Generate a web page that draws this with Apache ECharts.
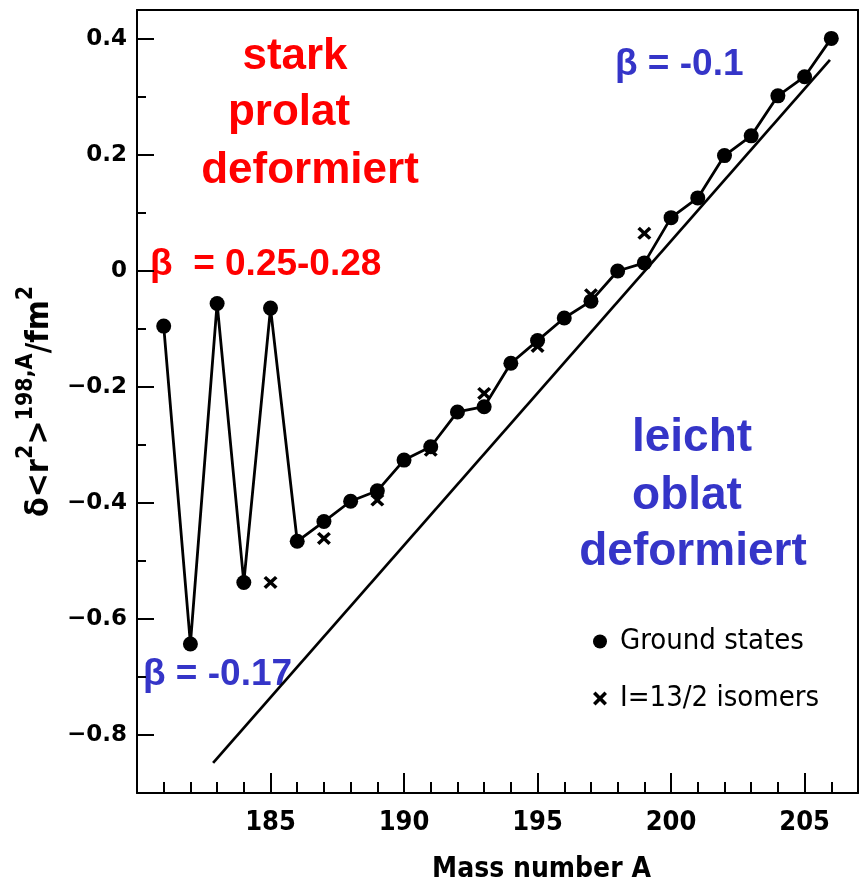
<!DOCTYPE html>
<html>
<head>
<meta charset="utf-8">
<script src="https://cdn.jsdelivr.net/npm/echarts@6/dist/echarts.min.js"></script>
<style>html,body{margin:0;padding:0;background:#fff;}#c{width:864px;height:881px;}</style>
</head>
<body>
<div id="c"></div>
<script>
// ---- data ----
const groundMass = [181,182,183,184,185,186,187,188,189,190,191,192,193,194,195,196,197,198,199,200,201,202,203,204,205,206];
const groundValues = [-0.095,-0.643,-0.056,-0.537,-0.064,-0.466,-0.432,-0.397,-0.379,-0.326,-0.303,-0.243,-0.234,-0.159,-0.120,-0.081,-0.052,0.000,0.014,0.092,0.126,0.199,0.233,0.302,0.335,0.401];
const isomerMass = [185,187,189,191,193,195,197,199];
const isomerValues = [-0.537,-0.461,-0.395,-0.309,-0.211,-0.130,-0.041,0.065];
const lineMass = [182.85,205.95];
const lineValues = [-0.848,0.364];
const xMajorTicks = [185,190,195,200,205];
const xMinorTicks = [181,182,183,184,186,187,188,189,191,192,193,194,196,197,198,199,201,202,203,204,206];
const yMajorTicks = [-0.8,-0.6,-0.4,-0.2,0,0.2,0.4];
const yMinorTicks = [-0.7,-0.5,-0.3,-0.1,0.1,0.3];
const seriesNames = ['Ground states','I=13/2 isomers'];

const plotFont = '"Liberation Sans Narrow","DejaVu Sans Condensed","DejaVu Sans",sans-serif';
const crossPath = 'path://M0,1.8L1.8,0L5,3.2L8.2,0L10,1.8L6.8,5L10,8.2L8.2,10L5,6.8L1.8,10L0,8.2L3.2,5Z';
const blue = '#3535c8';
const red = '#ff0000';

const zip = (a,b) => a.map((x,i)=>[x,b[i]]);
const fmtY = v => v === 0 ? '0' : (v < 0 ? '\u2212' : '') + Math.abs(v).toFixed(1);

const chart = echarts.init(document.getElementById('c'), null, {renderer:'canvas'});
const axisLine = {show:true, onZero:false, lineStyle:{color:'#000', width:2}};
const noLine = {show:false, onZero:false};
chart.setOption({
  animation:false,
  backgroundColor:'#fff',
  grid:{left:137, right:6, top:10, bottom:88, containLabel:false, outerBoundsMode:'none'},
  xAxis:[
    {type:'value', min:180, max:207, position:'bottom',
     axisLine:axisLine,
     axisTick:{show:true, inside:true, length:20, customValues:xMajorTicks, lineStyle:{color:'#000', width:2}},
     axisLabel:{show:true, customValues:xMajorTicks, margin:16, color:'#000', fontSize:27, fontWeight:'bold', fontFamily:plotFont},
     splitLine:{show:false},
     name:'Mass number A', nameLocation:'middle', nameGap:63,
     nameTextStyle:{color:'#000', fontSize:28, fontFamily:plotFont, fontWeight:'bold', padding:[0,0,0,88]}},
    {type:'value', min:180, max:207, position:'bottom',
     axisLine:noLine,
     axisTick:{show:true, inside:true, length:11, customValues:xMinorTicks, lineStyle:{color:'#000', width:2}},
     axisLabel:{show:false}, splitLine:{show:false}},
    {type:'value', min:180, max:207, position:'top',
     axisLine:axisLine, axisTick:{show:false}, axisLabel:{show:false}, splitLine:{show:false}}
  ],
  yAxis:[
    {type:'value', min:-0.9, max:0.45, position:'left',
     axisLine:axisLine,
     axisTick:{show:true, inside:true, length:17, customValues:yMajorTicks, lineStyle:{color:'#000', width:2}},
     axisLabel:{show:true, customValues:yMajorTicks, formatter:fmtY, margin:10, color:'#000', fontSize:23, fontWeight:'bold', fontFamily:'"DejaVu Sans",sans-serif'},
     splitLine:{show:false},
     name:'{a|\u03b4<r}{s|2}{a|>}{s|198,A}{a|/fm}{s|2}', nameLocation:'middle', nameRotate:90, nameGap:78,
     nameTextStyle:{color:'#000', rich:{
       a:{fontSize:32, fontFamily:plotFont, fontWeight:'bold', color:'#000', lineHeight:42, verticalAlign:'bottom'},
       s:{fontSize:23, fontFamily:plotFont, fontWeight:'bold', color:'#000', lineHeight:42, verticalAlign:'top'}
     }}},
    {type:'value', min:-0.9, max:0.45, position:'left',
     axisLine:noLine,
     axisTick:{show:true, inside:true, length:9, customValues:yMinorTicks, lineStyle:{color:'#000', width:2}},
     axisLabel:{show:false}, splitLine:{show:false}},
    {type:'value', min:-0.9, max:0.45, position:'right',
     axisLine:axisLine, axisTick:{show:false}, axisLabel:{show:false}, splitLine:{show:false}}
  ],
  legend:{
    orient:'vertical', left:588, top:622, itemWidth:14, itemHeight:14, itemGap:28,
    textStyle:{fontSize:29, color:'#000', fontFamily:plotFont, padding:[0,0,0,8]},
    data:[{name:seriesNames[0], icon:'circle'},{name:seriesNames[1], icon:crossPath, itemStyle:{color:'#000'}}]
  },
  series:[
    {name:'trend', type:'line', data:zip(lineMass,lineValues), symbol:'none',
     lineStyle:{color:'#000', width:2.7}, itemStyle:{color:'#000'}, silent:true, z:1},
    {name:seriesNames[0], type:'line', data:zip(groundMass,groundValues), symbol:'circle', symbolSize:15,
     lineStyle:{color:'#000', width:2.8}, itemStyle:{color:'#000'}, z:3},
    {name:seriesNames[1], type:'scatter', data:zip(isomerMass,isomerValues), symbol:crossPath, symbolSize:[14,13],
     itemStyle:{color:'#000', opacity:1}, z:4}
  ],
  graphic:[
    {type:'text', x:295, y:57, style:{text:'stark', fill:red, font:'bold 44px "Liberation Sans",Arial,sans-serif', align:'center', verticalAlign:'middle'}},
    {type:'text', x:289, y:113, style:{text:'prolat', fill:red, font:'bold 44px "Liberation Sans",Arial,sans-serif', align:'center', verticalAlign:'middle'}},
    {type:'text', x:310, y:171, style:{text:'deformiert', fill:red, font:'bold 44px "Liberation Sans",Arial,sans-serif', align:'center', verticalAlign:'middle'}},
    {type:'text', x:150, y:265, style:{text:'\u03b2  = 0.25-0.28', fill:red, font:'bold 37px "Liberation Sans",Arial,sans-serif', align:'left', verticalAlign:'middle'}},
    {type:'text', x:615, y:65, style:{text:'\u03b2 = -0.1', fill:blue, font:'bold 37px "Liberation Sans",Arial,sans-serif', align:'left', verticalAlign:'middle'}},
    {type:'text', x:143, y:675, style:{text:'\u03b2 = -0.17', fill:blue, font:'bold 37px "Liberation Sans",Arial,sans-serif', align:'left', verticalAlign:'middle'}},
    {type:'text', x:692, y:438, style:{text:'leicht', fill:blue, font:'bold 46px "Liberation Sans",Arial,sans-serif', align:'center', verticalAlign:'middle'}},
    {type:'text', x:687, y:496, style:{text:'oblat', fill:blue, font:'bold 46px "Liberation Sans",Arial,sans-serif', align:'center', verticalAlign:'middle'}},
    {type:'text', x:693, y:552, style:{text:'deformiert', fill:blue, font:'bold 46px "Liberation Sans",Arial,sans-serif', align:'center', verticalAlign:'middle'}}
  ]
});
</script>
</body>
</html>
